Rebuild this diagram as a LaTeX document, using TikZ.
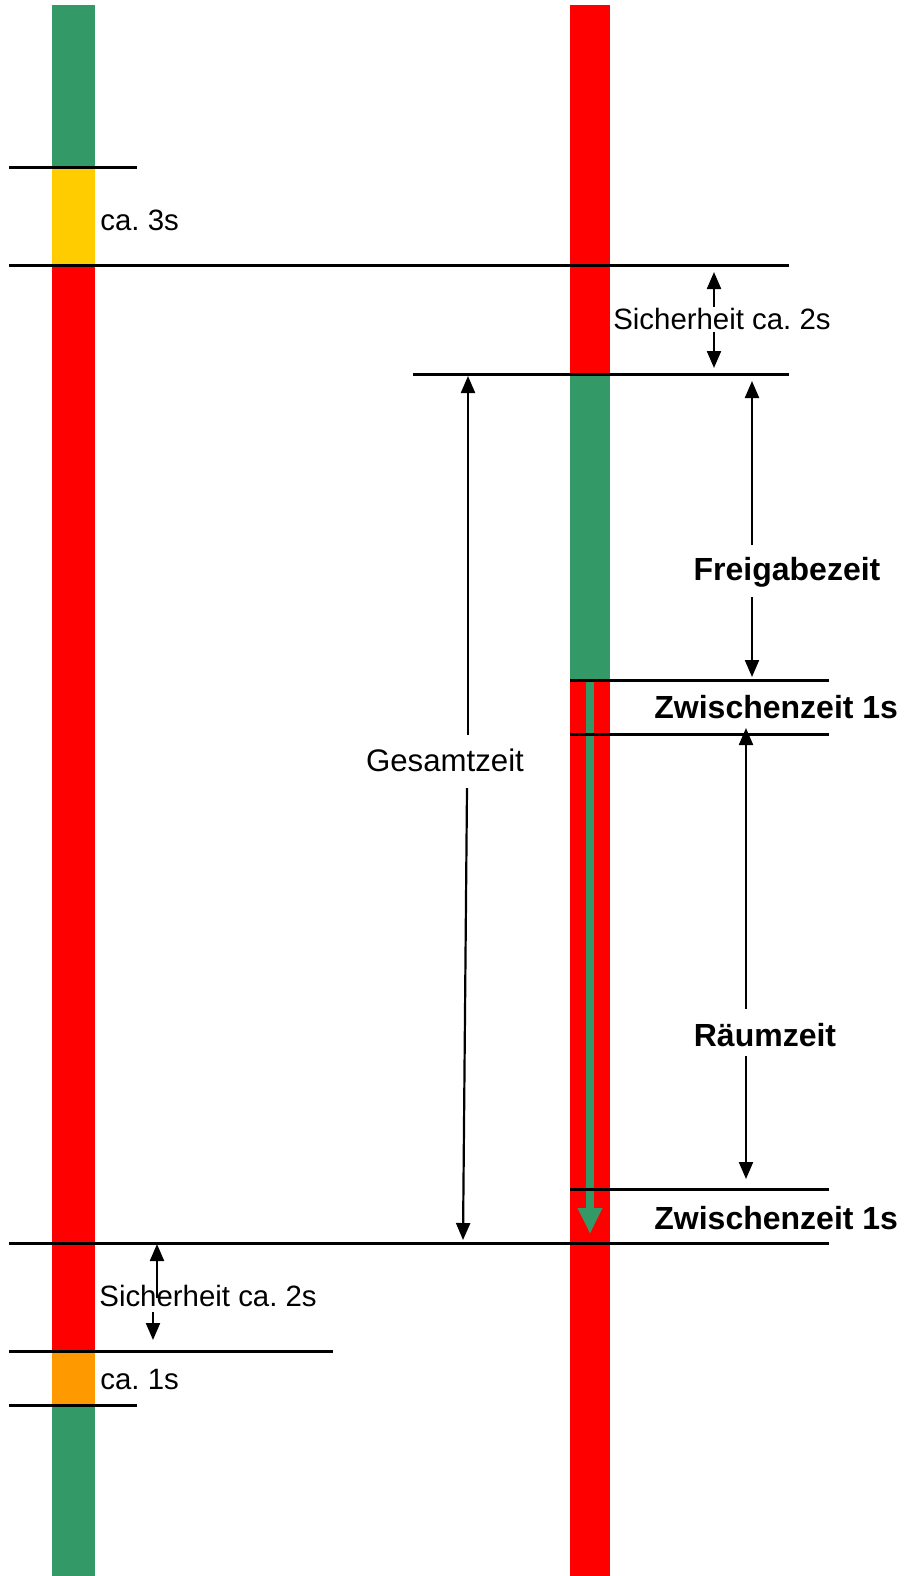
\documentclass[tikz,border=0pt]{standalone}
\usepackage{fontspec}
\setmainfont{Liberation Sans}
\usetikzlibrary{arrows.meta}
\definecolor{sgreen}{HTML}{339966}
\definecolor{syellow}{HTML}{FFCC00}
\definecolor{sorange}{HTML}{FF9900}
\definecolor{sred}{HTML}{FF0000}
\frenchspacing
\begin{document}
\begin{tikzpicture}[x=0.5pt,y=-0.5pt,
  hline/.style={line width=1.5pt},
  dim/.style={line width=1.1pt,-{Triangle[width=7pt,length=8.5pt]}},
  lbl/.style={font=\fontsize{14.7}{17}\selectfont,inner sep=0pt},
  blbl/.style={font=\fontsize{16}{18}\selectfont\bfseries,inner sep=0pt},
  garrow/.style={line width=4pt,draw=sgreen,-{Triangle[width=11.5pt,length=13pt]}}]
\useasboundingbox (0,0) rectangle (904,1576);
% left signal bar
\fill[sgreen]  (52,5)    rectangle (95,167);
\fill[syellow] (52,167)  rectangle (95,265);
\fill[sred]    (52,265)  rectangle (95,1351);
\fill[sorange] (52,1351) rectangle (95,1405);
\fill[sgreen]  (52,1405) rectangle (95,1576);
% right signal bar
\fill[sred]   (570,5)   rectangle (610,374);
\fill[sgreen] (570,374) rectangle (610,680);
\fill[sred]   (570,680) rectangle (610,1576);
% green flow arrow
\coordinate (ga) at (590,680);
\coordinate (gb) at (590,1234);
\draw[garrow] (ga) -- (gb);
% horizontal lines
\coordinate (l1a) at (9,167);   \coordinate (l1b) at (137,167);
\coordinate (l2a) at (9,265);   \coordinate (l2b) at (789,265);
\coordinate (l3a) at (413,374); \coordinate (l3b) at (789,374);
\coordinate (l4a) at (570,680); \coordinate (l4b) at (829,680);
\coordinate (l5a) at (570,734); \coordinate (l5b) at (829,734);
\coordinate (l6a) at (570,1189);\coordinate (l6b) at (829,1189);
\coordinate (l7a) at (9,1243);  \coordinate (l7b) at (829,1243);
\coordinate (l8a) at (9,1351);  \coordinate (l8b) at (333,1351);
\coordinate (l9a) at (9,1405);  \coordinate (l9b) at (137,1405);
\foreach \i in {1,...,9} \draw[hline] (l\i a) -- (l\i b);
% labels
\node[lbl,anchor=west] (ca3) at (100,220) {ca. 3s};
\node[lbl] (sich1) at (722,319) {Sicherheit ca. 2s};
\node[blbl] (frei) at (787,572) {Freigabezeit};
\node[blbl,anchor=west] (zw1) at (654,707) {Zwischenzeit 1s};
\node[lbl,font=\fontsize{15.6}{18}\selectfont] (ges) at (445,760) {Gesamtzeit};
\node[blbl] (raeum) at (765,1035) {Räumzeit};
\node[blbl,anchor=west] (zw2) at (654,1218) {Zwischenzeit 1s};
\node[lbl,anchor=west] (sich2) at (99,1296) {Sicherheit ca. 2s};
\node[lbl,anchor=west] (ca1) at (100,1380) {ca. 1s};
% dimension arrows
\coordinate (s1u) at (714,307); \coordinate (s1ut) at (714,272);
\coordinate (s1d) at (714,332); \coordinate (s1dt) at (714,368);
\draw[dim] (s1u) -- (s1ut);
\draw[dim] (s1d) -- (s1dt);
\coordinate (gu) at (468,735); \coordinate (gut) at (468,376);
\coordinate (gd) at (467,788); \coordinate (gdt) at (463,1240);
\draw[dim] (gu) -- (gut);
\draw[dim] (gd) -- (gdt);
\coordinate (fu) at (752,545); \coordinate (fut) at (752,381);
\coordinate (fd) at (752,597); \coordinate (fdt) at (752,677);
\draw[dim] (fu) -- (fut);
\draw[dim] (fd) -- (fdt);
\coordinate (ru) at (746,1009); \coordinate (rut) at (746,728);
\coordinate (rd) at (746,1056); \coordinate (rdt) at (746,1179);
\draw[dim] (ru) -- (rut);
\draw[dim] (rd) -- (rdt);
\coordinate (s2u) at (157,1298); \coordinate (s2ut) at (157,1244);
\coordinate (s2d) at (153,1312); \coordinate (s2dt) at (153,1340);
\draw[dim] (s2u) -- (s2ut);
\draw[dim] (s2d) -- (s2dt);
\end{tikzpicture}
\end{document}
